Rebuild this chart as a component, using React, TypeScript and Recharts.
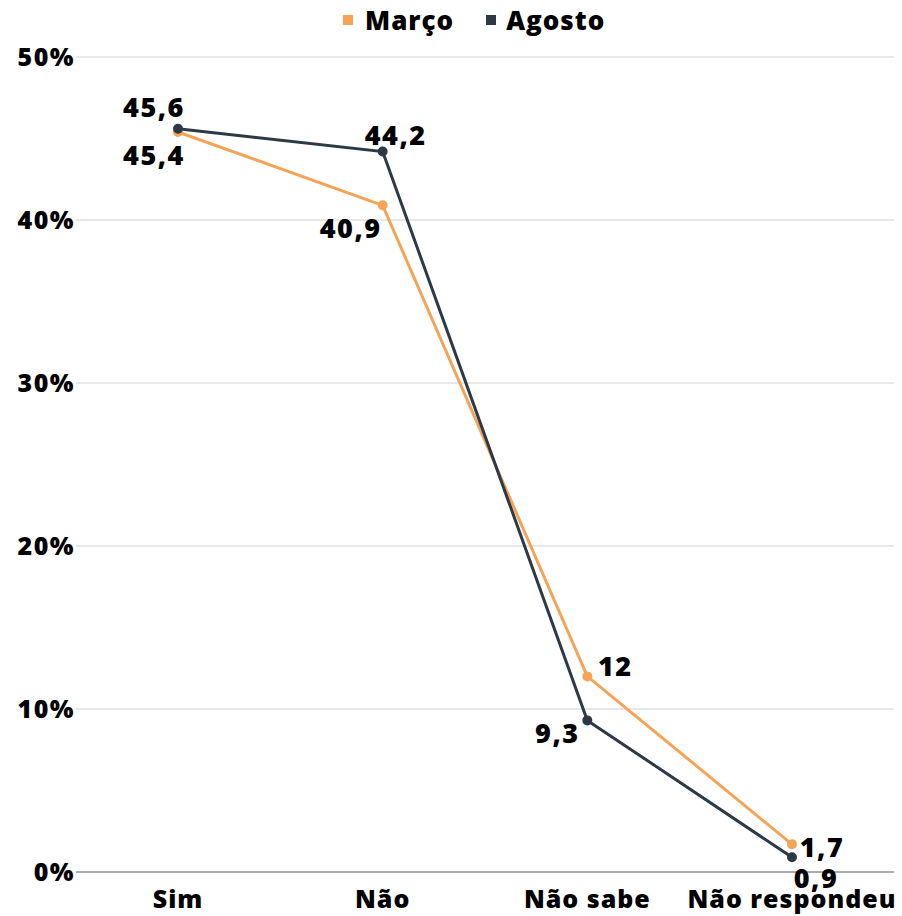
import React from 'react';
import { LineChart, Line, XAxis, YAxis, CartesianGrid, ReferenceLine } from 'recharts';

const categories = ['Sim', 'Não', 'Não sabe', 'Não respondeu'];
const marco = [45.4, 40.9, 12, 1.7];
const agosto = [45.6, 44.2, 9.3, 0.9];
const yTicks = [0, 10, 20, 30, 40, 50];

const data = categories.map((c, i) => ({ name: c, marco: marco[i], agosto: agosto[i] }));

const ORANGE = '#F5A457';
const DARK = '#2D3945';
const FONT = '"Open Sans", sans-serif';

// label offsets (dx, dy from point) per series
const marcoOffsets = [[-24, 23], [-32, 22], [28, -11], [30, 2]];
const agostoOffsets = [[-24, -22], [13, -17], [-30, 12], [24, 20]];

const fmt = (v: number) => String(v).replace('.', ',');

const makeLabel = (offsets: number[][]) => (props: any) => {
  const { x, y, value, index } = props;
  const [dx, dy] = offsets[index];
  return (
    <text x={x + dx} y={y + dy} textAnchor="middle" dominantBaseline="central"
      fontFamily={FONT} fontWeight={800} fontSize={27} letterSpacing={1.5} fill="#000">
      {fmt(value)}
    </text>
  );
};

export default function App() {
  return (
    <div style={{ position: 'absolute', left: 0, top: 0, width: 902, height: 916, background: '#fff' }}>
      <div style={{ position: 'absolute', left: 343, top: 4, display: 'flex', alignItems: 'center', fontFamily: FONT, fontWeight: 800, fontSize: 26, letterSpacing: 1, color: '#000', lineHeight: '32px' }}>
        <span style={{ width: 10, height: 10, background: ORANGE, display: 'inline-block', marginRight: 12 }} />
        <span style={{ marginRight: 32 }}>Março</span>
        <span style={{ width: 10, height: 10, background: DARK, display: 'inline-block', marginRight: 10 }} />
        <span>Agosto</span>
      </div>
      <LineChart width={902} height={916} data={data} margin={{ top: 57, right: 8, bottom: 0, left: 0 }}>
        <CartesianGrid vertical={false} stroke="#d0d0d0" strokeWidth={1} />
        <XAxis dataKey="name" axisLine={false} tickLine={false} height={44} interval={0}
          padding={{ left: 102, right: 102 }}
          tick={{ fontFamily: FONT, fontWeight: 800, fontSize: 25, letterSpacing: 1, fill: '#000' }} tickMargin={12} />
        <YAxis domain={[0, 50]} ticks={yTicks} width={76} axisLine={false} tickLine={false}
          tickFormatter={(v: number) => `${v}%`} tickMargin={1}
          tick={{ fontFamily: FONT, fontWeight: 800, fontSize: 25, letterSpacing: 1.5, fill: '#000', dx: 6 }} />
        <ReferenceLine y={0} stroke="#999" strokeWidth={1.5} />
        <Line dataKey="marco" name="Março" stroke={ORANGE} strokeWidth={3} isAnimationActive={false}
          dot={{ r: 3.5, fill: ORANGE, stroke: ORANGE }} label={makeLabel(marcoOffsets)} />
        <Line dataKey="agosto" name="Agosto" stroke={DARK} strokeWidth={3} isAnimationActive={false}
          dot={{ r: 3.5, fill: DARK, stroke: DARK }} label={makeLabel(agostoOffsets)} />
      </LineChart>
    </div>
  );
}
